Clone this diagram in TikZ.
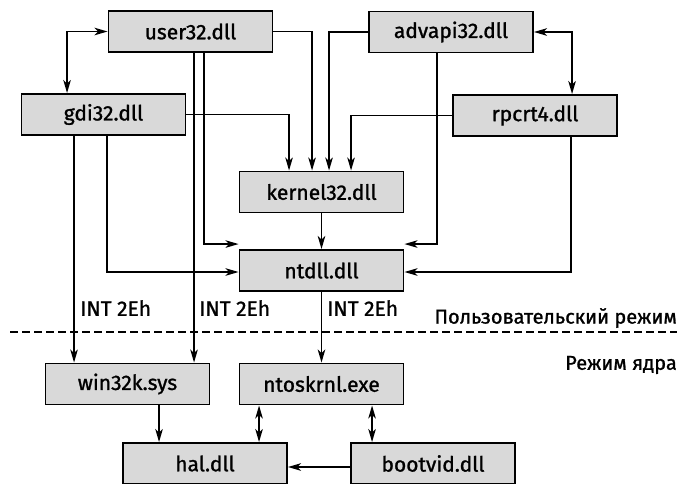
\documentclass[tikz,border=0pt]{standalone}
\usepackage{fontspec}
\setmainfont{Fira Sans}
\newfontfamily\diagfont{Fira Sans}[FakeBold=1.2]
\usetikzlibrary{arrows.meta}
\begin{document}
\begin{tikzpicture}[x=1pt,y=-1pt,
  tip/.tip={Stealth[length=13pt,width=7.5pt,inset=3.5pt]},
  modbox/.style={draw=black, line width=1.9pt, fill=black!15,
    minimum width=164pt, minimum height=41pt, inner sep=0pt,
    font=\diagfont\fontsize{21}{23}\selectfont},
  conn/.style={line width=1.7pt, arrows={-tip}},
  biconn/.style={line width=1.7pt, arrows={tip-tip}},
  lbl/.style={font=\diagfont\fontsize{21}{23}\selectfont, inner sep=0pt},
  modelbl/.style={font=\diagfont\fontsize{20}{22}\selectfont, inner sep=0pt}]
\useasboundingbox (0,0) rectangle (679,483);

% modules
\node[modbox] (user32)   at (190.5,31.5) {user32.dll};
\node[modbox] (advapi32) at (451,32)     {advapi32.dll};
\node[modbox] (gdi32)    at (103.5,114.5){gdi32.dll};
\node[modbox] (rpcrt4)   at (535,115.5)  {rpcrt4.dll};
\node[modbox] (kernel32) at (321.5,192)  {kernel32.dll};
\node[modbox] (ntdll)    at (321.5,270.5){ntdll.dll};
\node[modbox] (win32k)   at (127.5,384)  {win32k.sys};
\node[modbox] (ntoskrnl) at (321.5,384)  {ntoskrnl.exe};
\node[modbox] (hal)      at (205,463.5)  {hal.dll};
\node[modbox] (bootvid)  at (433,463.5)  {bootvid.dll};

% user32 / gdi32 / advapi32 / rpcrt4 links
\draw[biconn] (user32.west) -| ([xshift=46.5pt]gdi32.north west);
\draw[biconn] (advapi32.east) -| ([xshift=120pt]rpcrt4.north west);

% into kernel32
\draw[conn] (gdi32.east) -| ([xshift=50.5pt]kernel32.north west);
\draw[conn] (user32.east) -| ([xshift=73.5pt]kernel32.north west);
\draw[conn] (advapi32.west) -| ([xshift=90.5pt]kernel32.north west);
\draw[conn] (rpcrt4.west) -| ([xshift=112.5pt]kernel32.north west);

% into ntdll
\draw[conn] (kernel32.south) -- (ntdll.north);
\draw[conn] ([xshift=96.5pt]user32.south west) |- ([yshift=5pt]ntdll.north west);
\draw[conn] ([xshift=86.5pt]gdi32.south west) |- ([yshift=-1.5pt]ntdll.west);
\draw[conn] ([xshift=69pt]advapi32.south west) |- ([yshift=5pt]ntdll.north east);
\draw[conn] ([xshift=119pt]rpcrt4.south west) |- ([yshift=-1.5pt]ntdll.east);

% system calls into kernel mode
\draw[conn] ([xshift=53.5pt]gdi32.south west) coordinate (g1) -- (g1 |- win32k.north);
\draw[conn] ([xshift=86.5pt]user32.south west) coordinate (u1) -- (u1 |- win32k.north);
\draw[conn] (ntdll.south) -- (ntoskrnl.north);

\node[lbl, anchor=west] (int1) at (80,308)  {INT 2Eh};
\node[lbl, anchor=west] (int2) at (199,308) {INT 2Eh};
\node[lbl, anchor=west] (int3) at (327,308) {INT 2Eh};

% user / kernel boundary
\draw[line width=1.5pt, dash pattern=on 8pt off 4pt] (10,332) -- (677,332);
\node[modelbl, anchor=east] (umode) at (677,318) {Пользовательский режим};
\node[modelbl, anchor=east] (kmode) at (677,365) {Режим ядра};

% kernel-mode links
\draw[conn] ([xshift=114.5pt]win32k.south west) coordinate (w1) -- (w1 |- hal.north);
\draw[biconn] ([xshift=20.5pt]ntoskrnl.south west) coordinate (n1) -- (n1 |- hal.north);
\draw[biconn] ([xshift=133.5pt]ntoskrnl.south west) coordinate (n2) -- (n2 |- bootvid.north);
\draw[conn] ([yshift=-3.5pt]bootvid.west) -- ([yshift=-3.5pt]hal.east);
\end{tikzpicture}
\end{document}
